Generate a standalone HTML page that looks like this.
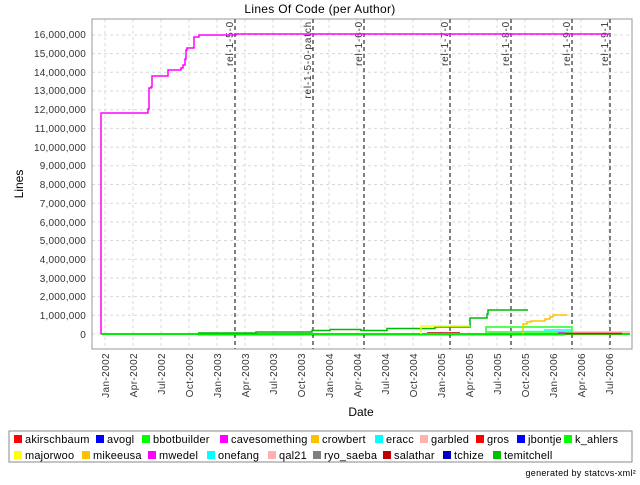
<!DOCTYPE html>
<html><head><meta charset="utf-8"><style>
body{margin:0;background:#fff;}
svg text{font-family:"Liberation Sans",sans-serif;}
</style></head><body>
<svg width="640" height="480" xmlns="http://www.w3.org/2000/svg">
<rect width="640" height="480" fill="#fff"/>
<text x="320" y="13" font-size="12" text-anchor="middle" fill="#000" letter-spacing="0.3">Lines Of Code (per Author)</text>
<g stroke="#d8d8d8" stroke-width="1" stroke-dasharray="3,3">
<line x1="92" x2="632" y1="334" y2="334"/><line x1="92" x2="632" y1="315.3" y2="315.3"/>
<line x1="92" x2="632" y1="296.6" y2="296.6"/><line x1="92" x2="632" y1="277.9" y2="277.9"/>
<line x1="92" x2="632" y1="259.2" y2="259.2"/><line x1="92" x2="632" y1="240.5" y2="240.5"/>
<line x1="92" x2="632" y1="221.9" y2="221.9"/><line x1="92" x2="632" y1="203.2" y2="203.2"/>
<line x1="92" x2="632" y1="184.5" y2="184.5"/><line x1="92" x2="632" y1="165.8" y2="165.8"/>
<line x1="92" x2="632" y1="147.1" y2="147.1"/><line x1="92" x2="632" y1="128.4" y2="128.4"/>
<line x1="92" x2="632" y1="109.7" y2="109.7"/><line x1="92" x2="632" y1="91" y2="91"/>
<line x1="92" x2="632" y1="72.3" y2="72.3"/><line x1="92" x2="632" y1="53.6" y2="53.6"/>
<line x1="92" x2="632" y1="35" y2="35"/>
<line x1="105" x2="105" y1="19" y2="349"/><line x1="133" x2="133" y1="19" y2="349"/>
<line x1="161" x2="161" y1="19" y2="349"/><line x1="189" x2="189" y1="19" y2="349"/>
<line x1="217" x2="217" y1="19" y2="349"/><line x1="245" x2="245" y1="19" y2="349"/>
<line x1="273" x2="273" y1="19" y2="349"/><line x1="301" x2="301" y1="19" y2="349"/>
<line x1="329" x2="329" y1="19" y2="349"/><line x1="357" x2="357" y1="19" y2="349"/>
<line x1="385" x2="385" y1="19" y2="349"/><line x1="413" x2="413" y1="19" y2="349"/>
<line x1="441" x2="441" y1="19" y2="349"/><line x1="469" x2="469" y1="19" y2="349"/>
<line x1="497" x2="497" y1="19" y2="349"/><line x1="525" x2="525" y1="19" y2="349"/>
<line x1="553" x2="553" y1="19" y2="349"/><line x1="581" x2="581" y1="19" y2="349"/>
<line x1="609" x2="609" y1="19" y2="349"/>
</g>
<rect x="92" y="19" width="540" height="330" fill="none" stroke="#999" stroke-width="1"/>
<g stroke="#808080" stroke-width="2" stroke-dasharray="4,3">
<line x1="235" x2="235" y1="19" y2="349"/><line x1="313" x2="313" y1="19" y2="349"/>
<line x1="364" x2="364" y1="19" y2="349"/><line x1="450" x2="450" y1="19" y2="349"/>
<line x1="511" x2="511" y1="19" y2="349"/><line x1="572" x2="572" y1="19" y2="349"/>
<line x1="610" x2="610" y1="19" y2="349"/>
</g>
<g font-size="10" fill="#333" text-anchor="end" letter-spacing="0.8">
<text transform="translate(233,21) rotate(-90)">rel-1-5-0</text>
<text transform="translate(311,21) rotate(-90)">rel-1-5-0-patch</text>
<text transform="translate(362,21) rotate(-90)">rel-1-6-0</text>
<text transform="translate(448,21) rotate(-90)">rel-1-7-0</text>
<text transform="translate(509,21) rotate(-90)">rel-1-8-0</text>
<text transform="translate(570,21) rotate(-90)">rel-1-9-0</text>
<text transform="translate(608,21) rotate(-90)">rel-1-9-1</text>
</g>
<g font-size="10" fill="#333" text-anchor="end" letter-spacing="0.2">
<text x="86" y="338">0</text><text x="86" y="319">1,000,000</text><text x="86" y="300">2,000,000</text>
<text x="86" y="282">3,000,000</text><text x="86" y="263">4,000,000</text><text x="86" y="244">5,000,000</text>
<text x="86" y="226">6,000,000</text><text x="86" y="207">7,000,000</text><text x="86" y="188">8,000,000</text>
<text x="86" y="169">9,000,000</text><text x="86" y="151">10,000,000</text><text x="86" y="132">11,000,000</text>
<text x="86" y="113">12,000,000</text><text x="86" y="94">13,000,000</text><text x="86" y="76">14,000,000</text>
<text x="86" y="57">15,000,000</text><text x="86" y="38">16,000,000</text>
</g>
<text transform="translate(23,184) rotate(-90)" font-size="12" text-anchor="middle">Lines</text>
<g font-size="10" fill="#333" text-anchor="end" letter-spacing="0.4">
<text transform="translate(109,353) rotate(-90)">Jan-2002</text>
<text transform="translate(137,353) rotate(-90)">Apr-2002</text>
<text transform="translate(165,353) rotate(-90)">Jul-2002</text>
<text transform="translate(193,353) rotate(-90)">Oct-2002</text>
<text transform="translate(221,353) rotate(-90)">Jan-2003</text>
<text transform="translate(249,353) rotate(-90)">Apr-2003</text>
<text transform="translate(277,353) rotate(-90)">Jul-2003</text>
<text transform="translate(305,353) rotate(-90)">Oct-2003</text>
<text transform="translate(333,353) rotate(-90)">Jan-2004</text>
<text transform="translate(361,353) rotate(-90)">Apr-2004</text>
<text transform="translate(389,353) rotate(-90)">Jul-2004</text>
<text transform="translate(417,353) rotate(-90)">Oct-2004</text>
<text transform="translate(445,353) rotate(-90)">Jan-2005</text>
<text transform="translate(473,353) rotate(-90)">Apr-2005</text>
<text transform="translate(501,353) rotate(-90)">Jul-2005</text>
<text transform="translate(529,353) rotate(-90)">Oct-2005</text>
<text transform="translate(557,353) rotate(-90)">Jan-2006</text>
<text transform="translate(585,353) rotate(-90)">Apr-2006</text>
<text transform="translate(613,353) rotate(-90)">Jul-2006</text>
</g>
<text x="361" y="416" font-size="12" text-anchor="middle">Date</text>
<g fill="none" stroke-width="1.5">
<polyline stroke="#ffb0b0" points="519,332 630,332"/>
<polyline stroke="#00ffff" points="198,334 486,334 486,333 520,333 520,331.5 545,331.5 545,330 572,330"/>
<polyline stroke="#0000ff" points="198,334.5 565,334.5"/>
<polyline stroke="#0000bb" points="380,334 519,334"/>
<polyline stroke="#bb0000" points="427,333 460,333"/>
<polyline stroke="#00ee00" points="101,334 630,334" stroke-width="2"/>
<polyline stroke="#00bb00" points="198,333 256,333 256,332 312,332 312,330.5 330,330.5 330,329.5 361,329.5 361,330.5 380,330.5 387,330.5 387,328.5 435,328.5 435,327 470,327 470,318 487,318 487,314 488,314 488,310 528,310"/>
<polyline stroke="#ffff00" points="421,334 421,326 470,326"/>
<rect x="486" y="327" width="86" height="5" stroke="#55ff55" stroke-width="2"/>
<polyline stroke="#ffc000" points="523,334 523,324 527,324 527,322 531,322 531,321 545,321 545,319 550,319 550,317 553,317 553,315 567,315"/>
<polyline stroke="#ff00ff" points="558,333 565,333"/>
<polyline stroke="#ff0000" points="565,333.5 622,333.5"/>
<polyline stroke="#ff00ff" points="101,334 101,113 148,113 148,109 149,109 149,88 151,88 151,87 152,87 152,76 168,76 168,70 181,70 181,68 183,68 183,65 185,65 185,59 186,59 186,50 187,50 187,48 194,48 194,37 199,37 199,35 236,35 236,34 610,34"/>
</g>
<rect x="9" y="431" width="623" height="31" fill="#fff" stroke="#888" stroke-width="1"/>
<g font-size="11" fill="#000" letter-spacing="0.2">
<rect x="14" y="435" width="8" height="8" fill="#ff0000"/><text x="25" y="443">akirschbaum</text>
<rect x="96" y="435" width="8" height="8" fill="#0000ff"/><text x="107" y="443">avogl</text>
<rect x="142" y="435" width="8" height="8" fill="#00ff00"/><text x="153" y="443">bbotbuilder</text>
<rect x="220" y="435" width="8" height="8" fill="#ff00ff"/><text x="231" y="443">cavesomething</text>
<rect x="311" y="435" width="8" height="8" fill="#ffc000"/><text x="322" y="443">crowbert</text>
<rect x="375" y="435" width="8" height="8" fill="#00ffff"/><text x="386" y="443">eracc</text>
<rect x="420" y="435" width="8" height="8" fill="#ffb0b0"/><text x="431" y="443">garbled</text>
<rect x="476" y="435" width="8" height="8" fill="#ff0000"/><text x="487" y="443">gros</text>
<rect x="517" y="435" width="8" height="8" fill="#0000ff"/><text x="528" y="443">jbontje</text>
<rect x="564" y="435" width="8" height="8" fill="#00ff00"/><text x="575" y="443">k_ahlers</text>
<rect x="14" y="451" width="8" height="8" fill="#ffff00"/><text x="25" y="459">majorwoo</text>
<rect x="82" y="451" width="8" height="8" fill="#ffc000"/><text x="93" y="459">mikeeusa</text>
<rect x="148" y="451" width="8" height="8" fill="#ff00ff"/><text x="159" y="459">mwedel</text>
<rect x="207" y="451" width="8" height="8" fill="#00ffff"/><text x="218" y="459">onefang</text>
<rect x="268" y="451" width="8" height="8" fill="#ffb0b0"/><text x="279" y="459">qal21</text>
<rect x="313" y="451" width="8" height="8" fill="#808080"/><text x="324" y="459">ryo_saeba</text>
<rect x="383" y="451" width="8" height="8" fill="#c00000"/><text x="394" y="459">salathar</text>
<rect x="443" y="451" width="8" height="8" fill="#0000c0"/><text x="454" y="459">tchize</text>
<rect x="493" y="451" width="8" height="8" fill="#00c000"/><text x="504" y="459">temitchell</text>
</g>
<text x="636" y="476" font-size="9" text-anchor="end" letter-spacing="0.3">generated by statcvs-xml²</text>
</svg>
</body></html>
